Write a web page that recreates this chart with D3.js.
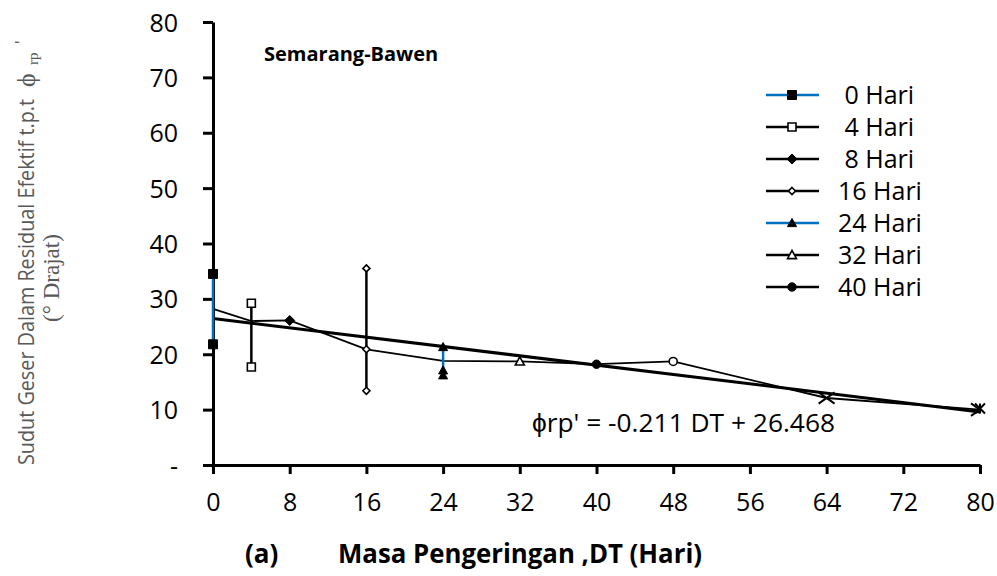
<!DOCTYPE html>
<html>
<head>
<meta charset="utf-8">
<script src="https://cdn.jsdelivr.net/npm/d3@7"></script>
<style>
  body { margin: 0; background: #fff; }
  text { font-family: "Open Sans", sans-serif; }
</style>
</head>
<body>
<svg id="chart" width="997" height="576"></svg>
<script>
// Axis ticks
const xTickValues = [0, 8, 16, 24, 32, 40, 48, 56, 64, 72, 80];
const yTickValues = [0, 10, 20, 30, 40, 50, 60, 70, 80];

// Drying-time groups shown in the legend: day, measured angles
const seriesNames = ["0 Hari", "4 Hari", "8 Hari", "16 Hari", "24 Hari", "32 Hari", "40 Hari"];
const seriesDays = [0, 4, 8, 16, 24, 32, 40];
const seriesValues = [
  [34.5, 21.8],
  [29.2, 17.7],
  [26.1],
  [35.5, 20.9, 13.4],
  [21.3, 17.1, 16.2],
  [18.7],
  [18.2]
];
const seriesColors = ["#0070C0", "#000", "#000", "#000", "#0070C0", "#000", "#000"];
const seriesMarkers = ["squareFilled", "squareOpen", "diamondFilled", "diamondOpen", "triangleFilled", "triangleOpen", "circleFilled"];

// Later measurements (not in the legend)
const extraDays = [48, 64, 80, 80];
const extraValues = [18.7, 12.1, 10.0, 10.2];
const extraMarkers = ["circleOpen", "times", "timesClipped", "asterisk"];

// Average angle per drying time
const meanDays = [0, 4, 8, 16, 24, 32, 40, 48, 64, 80];
const meanValues = [28.2, 26.0, 26.1, 20.9, 18.8, 18.7, 18.2, 18.7, 12.1, 10.0];

// Linear fit: phi = slope * DT + intercept
const fitSlope = -0.211;
const fitIntercept = 26.468;
const fitDays = [0, 80];

const svg = d3.select("#chart");
const plot = { left: 213, right: 980, top: 22, bottom: 465 };

const x = d3.scaleLinear().domain([0, 80]).range([plot.left, plot.right]);
const y = d3.scaleLinear().domain([0, 80]).range([plot.bottom, plot.top]);

// marker shapes, centred on the origin
function markerPath(kind, h) {
  switch (kind) {
    case "squareFilled": case "squareOpen":
      return `M${-h},${-h}H${h}V${h}H${-h}Z`;
    case "diamondFilled": case "diamondOpen":
      return `M0,${-h}L${h},0L0,${h}L${-h},0Z`;
    case "triangleFilled": case "triangleOpen":
      return `M0,${-h}L${h},${h * 0.8}L${-h},${h * 0.8}Z`;
    case "circleFilled": case "circleOpen": {
      const p = d3.path(); p.arc(0, 0, h, 0, 2 * Math.PI); p.closePath(); return p.toString();
    }
    case "times":
      return `M${-h},${-h * 0.7}L${h},${h * 0.7}M${-h},${h * 0.7}L${h},${-h * 0.7}`;
    case "timesClipped":
      // only the half that lies inside the plot frame
      return `M${-h},${-h * 0.7}L0,0L${-h},${h * 0.7}`;
    case "asterisk":
      return `M${-h},${-h}L${h},${h}M${-h},${h}L${h},${-h}M0,${-h}V${h}`;
  }
}
const markerSize = {
  squareFilled: 4.5, squareOpen: 4, diamondFilled: 5, diamondOpen: 3.5,
  triangleFilled: 4.5, triangleOpen: 4.5, circleFilled: 4.2, circleOpen: 4,
  times: 8, timesClipped: 9, asterisk: 5
};
function styleMarker(sel, kind, color) {
  const open = /Open/.test(kind);
  const strokeOnly = /times|asterisk/.test(kind);
  sel.attr("d", markerPath(kind, markerSize[kind]))
    .attr("fill", strokeOnly ? "none" : (open ? "#fff" : color))
    .attr("stroke", strokeOnly || open ? "#000" : color)
    .attr("stroke-width", open ? 1.6 : (strokeOnly ? 2 : 1));
}

// Axes
const xAxis = svg.append("g")
  .attr("transform", `translate(0,${plot.bottom})`)
  .call(d3.axisBottom(x).tickValues(xTickValues).tickSize(9).tickSizeOuter(0).tickFormat(d3.format("d")));
const yAxis = svg.append("g")
  .attr("transform", `translate(${plot.left},0)`)
  .call(d3.axisLeft(y).tickValues(yTickValues).tickSize(10).tickSizeOuter(0)
    .tickFormat(d => d === 0 ? "-" : d));

[xAxis, yAxis].forEach(g => {
  g.select(".domain").attr("stroke", "#000").attr("stroke-width", 3);
  g.selectAll(".tick line").attr("stroke", "#000").attr("stroke-width", 3);
  g.selectAll(".tick text").attr("fill", "#000").style("font-size", "25px")
    .style("font-family", "'Open Sans', sans-serif");
});
xAxis.selectAll(".tick text").attr("y", 46).attr("dy", 0);
yAxis.selectAll(".tick text").attr("x", -35).attr("dy", "0.36em");

const chartArea = svg.append("g");

// fitted trend line
const line = d3.line().x(d => x(d[0])).y(d => y(d[1]));
chartArea.append("path")
  .datum(fitDays.map(d => [d, fitSlope * d + fitIntercept]))
  .attr("d", line).attr("fill", "none").attr("stroke", "#000").attr("stroke-width", 3);

// average line
chartArea.append("path")
  .datum(meanDays.map((d, i) => [d, meanValues[i]]))
  .attr("d", line).attr("fill", "none").attr("stroke", "#000").attr("stroke-width", 1.8);

// group lines and markers
seriesNames.forEach((name, i) => {
  const pts = seriesValues[i].map(v => [seriesDays[i], v]);
  if (pts.length > 1) {
    chartArea.append("path").datum(pts).attr("d", line)
      .attr("fill", "none").attr("stroke", seriesColors[i]).attr("stroke-width", 2.5);
  }
  chartArea.selectAll(null).data(pts).enter().append("path")
    .attr("transform", d => `translate(${x(d[0])},${y(d[1])})`)
    .call(styleMarker, seriesMarkers[i], "#000");
});

extraDays.forEach((d, i) => {
  chartArea.append("path")
    .attr("transform", `translate(${x(d)},${y(extraValues[i])})`)
    .call(styleMarker, extraMarkers[i], "#000");
});

// Title inside plot
svg.append("text").attr("x", 264).attr("y", 61)
  .style("font-size", "20px").style("font-weight", "bold").attr("fill", "#000")
  .text("Semarang-Bawen");

// Fit equation
svg.append("text").attr("x", 532).attr("y", 432)
  .style("font-size", "25px").attr("fill", "#000")
  .attr("textLength", 303).attr("lengthAdjust", "spacingAndGlyphs")
  .text(`\u03D5rp' = ${fitSlope} DT + ${fitIntercept}`);

// Legend
const legend = svg.append("g");
seriesNames.forEach((name, i) => {
  const ly = 95 + i * 32;
  legend.append("line").attr("x1", 766).attr("x2", 819).attr("y1", ly).attr("y2", ly)
    .attr("stroke", seriesColors[i]).attr("stroke-width", 2.5);
  legend.append("path").attr("transform", `translate(792,${ly})`)
    .call(styleMarker, seriesMarkers[i], "#000");
  legend.append("text").attr("x", 838).attr("y", ly + 9)
    .style("font-size", "25px").style("white-space", "pre").attr("fill", "#000")
    .text((name.length < 7 ? " " : "") + name);
});

// X axis title
svg.append("text").attr("x", 245).attr("y", 563).style("font-size", "26px")
  .style("font-weight", "bold").attr("fill", "#000").text("(a)");
svg.append("text").attr("x", 338).attr("y", 563).style("font-size", "26px")
  .style("font-weight", "bold").attr("fill", "#000")
  .attr("textLength", 364).attr("lengthAdjust", "spacingAndGlyphs")
  .text("Masa Pengeringan ,DT (Hari)");

// Y axis title (two rotated lines)
const yTitle = svg.append("g").attr("transform", "translate(0,465) rotate(-90)");
yTitle.append("text").attr("x", 0).attr("y", 34)
  .attr("fill", "#595959").style("font-size", "22px")
  .attr("textLength", 366).attr("lengthAdjust", "spacingAndGlyphs")
  .text("Sudut Geser Dalam Residual Efektif t.p.t");
yTitle.append("text").attr("x", 378).attr("y", 35)
  .attr("fill", "#595959").style("font-family", "'Liberation Serif', serif").style("font-size", "26px")
  .text("\u03D5");
yTitle.append("text").attr("x", 400).attr("y", 38)
  .attr("fill", "#595959").style("font-family", "'Liberation Serif', serif").style("font-size", "15px")
  .text("rp");
yTitle.append("text").attr("x", 421).attr("y", 27)
  .attr("fill", "#595959").style("font-size", "16px")
  .text("'");
yTitle.append("text").attr("x", 187).attr("y", 59)
  .attr("text-anchor", "middle").attr("fill", "#595959")
  .style("font-family", "'Liberation Serif', serif").style("font-size", "23px")
  .text("(° Drajat)");
</script>
</body>
</html>
